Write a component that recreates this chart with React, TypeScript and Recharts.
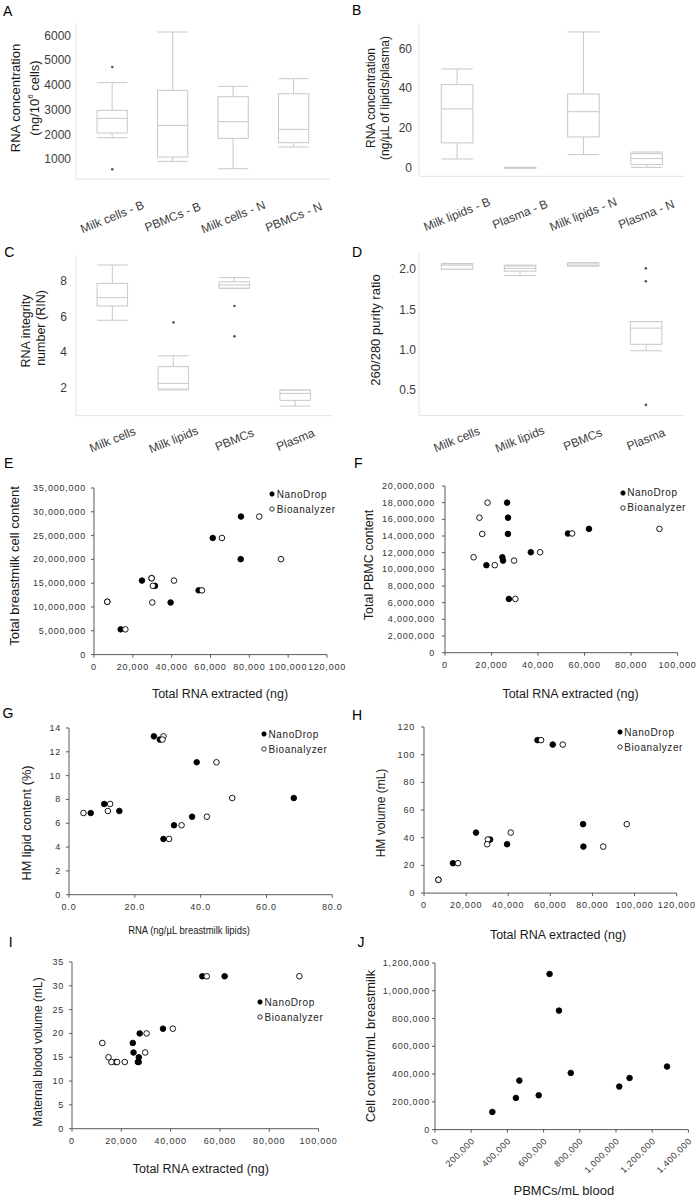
import React from 'react';
import { Bar, ComposedChart, Legend, Line, Scatter, ScatterChart, XAxis, YAxis } from 'recharts';

// ---------- A: RNA concentration, cells ----------
const aCategories = ['Milk cells - B', 'PBMCs - B', 'Milk cells - N', 'PBMCs - N'];
const aMin = [1870, 915, 615, 1495];
const aQ1 = [2060, 1090, 1845, 1670];
const aMedian = [2655, 2370, 2520, 2210];
const aQ3 = [2980, 3790, 3530, 3650];
const aMax = [4100, 6150, 3950, 4260];
const aOutliers = [[4735, 590], [], [], []];
const aTicks = [1000, 2000, 3000, 4000, 5000, 6000];

// ---------- B: RNA concentration, lipids / plasma ----------
const bCategories = ['Milk lipids - B', 'Plasma - B', 'Milk lipids - N', 'Plasma - N'];
const bMin = [4.5, 0, 6.7, 0.3];
const bQ1 = [12.6, 0.05, 15.6, 1.7];
const bMedian = [29.7, 0.1, 28.3, 4.7];
const bQ3 = [41.9, 0.2, 37.2, 7.2];
const bMax = [49.8, 0.3, 68.4, 8.0];
const bOutliers: number[][] = [[], [], [], []];
const bTicks = [0, 20, 40, 60];

// ---------- C / D: RIN and purity ----------
const sampleTypes = ['Milk cells', 'Milk lipids', 'PBMCs', 'Plasma'];
const cMin = [5.8, 1.9, 7.59, 0.99];
const cQ1 = [6.6, 1.94, 7.6, 1.31];
const cMedian = [7.07, 2.26, 7.78, 1.7];
const cQ3 = [7.87, 3.2, 7.96, 1.88];
const cMax = [8.9, 3.81, 8.19, 1.89];
const cOutliers = [[], [5.68], [6.6, 4.9], []];
const cTicks = [2, 4, 6, 8];

const dMin = [2.0, 1.92, 2.04, 0.99];
const dQ1 = [2.0, 1.975, 2.04, 1.07];
const dMedian = [2.05, 2.01, 2.05, 1.27];
const dQ3 = [2.065, 2.04, 2.075, 1.35];
const dMax = [2.07, 2.05, 2.08, 1.35];
const dOutliers = [[], [], [], [2.01, 1.85, 0.32]];
const dTicks = [0.5, 1.0, 1.5, 2.0];

// ---------- E / H: breastmilk samples ----------
const milkRnaNano = [6850, 13750, 24700, 31400, 39450, 53900, 61150, 75550, 75700, 29650];
const milkRnaBio = [6850, 16150, 41200, 30300, 30000, 55600, 65900, 96300, 85100, 29650];
const milkCells = [11100000, 5300000, 15550000, 14450000, 10950000, 13500000, 24500000, 20050000, 29000000, 16050000];
const milkVolume = [9.6, 21.6, 43.7, 38.7, 35.3, 110.5, 107.3, 49.8, 33.6, null];

// ---------- F / I: blood samples ----------
const pbmcRnaNano = [26700, 27100, 27050, 17800, 24650, 24950, 27450, 36900, 52850, 61900];
const pbmcRnaBio = [18300, 14800, 16000, 21400, 12300, 29700, 30250, 40900, 54650, 92200];
const pbmcCount = [18000000, 16200000, 14250000, 10500000, 11450000, 11050000, 6450000, 12050000, 14300000, 14850000];
const bloodVolume = [14, 15, 14, 14, 18, 16, 20, 21, 32, 32];

// ---------- G: lipid fraction ----------
const lipidRnaNano = [6.6, 10.7, 15.3, 25.8, 27.6, 28.7, 31.9, 37.4, 38.8, 68.3];
const lipidRnaBio = [4.4, 12.5, 11.8, 28.7, 28.4, 30.4, 34.2, 41.9, 44.8, 49.6];
const lipidContent = [6.86, 7.62, 7.03, 13.3, 13.03, 4.68, 5.83, 6.55, 11.12, 8.12];

// ---------- J ----------
const pbmcPerMl = [317000, 447000, 466000, 573000, 633000, 685000, 750000, 1018000, 1075000, 1282000];
const milkCellsPerMl = [127000, 228000, 353000, 247000, 1121000, 857000, 408000, 310000, 372000, 454000];

const FONT = '"Liberation Sans", Arial, Helvetica, sans-serif';
const INK = '#1a1a1a';
const TICK_GREY = '#3d3d3d';
const FRAME = '#e2e2e2';
const BOX = '#c8c8c8';
const AXIS = '#595959';
const EXCEL_TEXT = '#333';

type Rect = { l: number; t: number; r: number; b: number };

// chart box so that the plot area lands on the given rectangle
function frameFor(p: Rect, yW: number, xH: number, top: number, right: number) {
  return {
    left: p.l - yW,
    top: p.t - top,
    width: p.r - p.l + yW + right,
    height: p.b - p.t + top + xH,
    margin: { top, right, bottom: 0, left: 0 },
  };
}

const thousands = (v: number) => v.toLocaleString('en-US');
const oneDecimal = (v: number) => v.toFixed(1);
const plain = (v: number) => String(v);

const leftTick = (fmt: (v: number) => string, size: number, fill: string, spacing = 0) => (props: any) => (
  <text x={props.x} y={props.y} textAnchor="end" dominantBaseline="central" fontSize={size} fill={fill}
        letterSpacing={spacing} fontFamily={FONT}>
    {fmt(props.payload.value)}
  </text>
);

const bottomTick = (fmt: (v: number) => string) => (props: any) => (
  <text x={props.x} y={props.y} dy="0.71em" textAnchor="middle" fontSize={9} fill={EXCEL_TEXT}
        letterSpacing={0.8} fontFamily={FONT}>
    {fmt(props.payload.value)}
  </text>
);

const angledTick = (fmt: (v: number) => string) => (props: any) => {
  const x = props.x + 4;
  const y = props.y + 9;
  return (
    <text x={x} y={y} textAnchor="end" transform={`rotate(-45 ${x} ${y})`} fontSize={9} fill={EXCEL_TEXT}
          letterSpacing={0.6} fontFamily={FONT}>
      {fmt(props.payload.value)}
    </text>
  );
};

// category label centred below the band, tilted like the original
const catTick = (centerY: number) => (props: any) => (
  <g transform={`translate(${props.x},${centerY})`}>
    <text x={0} y={0} textAnchor="middle" dominantBaseline="central" transform="rotate(-22)" fontSize={12}
          fill={TICK_GREY} fontFamily={FONT}>
      {props.payload.value}
    </text>
  </g>
);

// box drawn inside the [min,max] range bar; inner values placed on the same linear y scale
const BoxShape = (props: any) => {
  const { x, y, width, height, payload } = props;
  const [lo, hi] = payload.span;
  const top = Math.min(y, y + height);
  const bottom = Math.max(y, y + height);
  const at = (v: number) => (hi === lo ? top : top + ((hi - v) / (hi - lo)) * (bottom - top));
  const cx = x + width / 2;
  return (
    <g stroke={BOX} strokeWidth={1} fill="none">
      <line x1={x} x2={x + width} y1={top} y2={top} />
      <line x1={x} x2={x + width} y1={bottom} y2={bottom} />
      <line x1={cx} x2={cx} y1={top} y2={at(payload.q3)} />
      <line x1={cx} x2={cx} y1={at(payload.q1)} y2={bottom} />
      <rect x={x} y={at(payload.q3)} width={width} height={Math.max(at(payload.q1) - at(payload.q3), 0.5)} fill="#fff" />
      <line x1={x} x2={x + width} y1={at(payload.median)} y2={at(payload.median)} />
    </g>
  );
};

const OutlierDot = (props: any) => {
  const { cx, cy, value, index, dataKey } = props;
  if (value == null || cy == null || Number.isNaN(cy)) return <g key={`${dataKey}-${index}`} />;
  return <circle key={`${dataKey}-${index}`} cx={cx} cy={cy} r={1.3} fill="#555" />;
};

interface BoxPanelProps {
  plot: Rect;
  categories: string[];
  mins: number[];
  q1s: number[];
  medians: number[];
  q3s: number[];
  maxs: number[];
  outliers: number[][];
  domain: [number, number];
  ticks: number[];
  fmt: (v: number) => string;
  tickGap: number;
  labelOffset: number;
}

function BoxPanel(p: BoxPanelProps) {
  const rows = p.categories.map((cat, i) => {
    const row: any = { cat, span: [p.mins[i], p.maxs[i]], q1: p.q1s[i], median: p.medians[i], q3: p.q3s[i] };
    p.outliers[i].forEach((v, k) => { row['out' + k] = v; });
    return row;
  });
  const outCount = Math.max(...p.outliers.map(o => o.length));
  const unit = (p.plot.r - p.plot.l) / (p.categories.length + 0.2);
  const f = frameFor(p.plot, 60, 60, 6, 6);
  const labelY = f.margin.top + (p.plot.b - p.plot.t) + p.labelOffset;
  return (
    <div style={{ position: 'absolute', left: f.left, top: f.top }}>
      <ComposedChart width={f.width} height={f.height} data={rows} margin={f.margin}>
        <XAxis dataKey="cat" type="category" interval={0} height={60} padding={{ left: unit * 0.1, right: unit * 0.1 }}
               axisLine={{ stroke: FRAME }} tickLine={false} tickSize={0} tickMargin={0} tick={catTick(labelY)} />
        <XAxis xAxisId="frameTop" dataKey="cat" type="category" orientation="top" height={0}
               axisLine={{ stroke: FRAME }} tickLine={false} tick={false} />
        <YAxis type="number" domain={p.domain} ticks={p.ticks} allowDataOverflow width={60} interval={0}
               axisLine={{ stroke: FRAME }} tickLine={false} tickSize={0} tickMargin={p.tickGap}
               tick={leftTick(p.fmt, 12, TICK_GREY)} />
        <YAxis yAxisId="frameRight" type="number" orientation="right" domain={p.domain} allowDataOverflow width={0}
               axisLine={{ stroke: FRAME }} tickLine={false} tick={false} />
        <Bar dataKey="span" barSize={unit * 0.5} shape={BoxShape} isAnimationActive={false} />
        {Array.from({ length: outCount }).map((_, k) => (
          <Line key={k} dataKey={'out' + k} stroke="none" dot={OutlierDot} activeDot={false} isAnimationActive={false} />
        ))}
      </ComposedChart>
    </div>
  );
}

interface Series { name: string; xs: number[]; ys: (number | null)[]; filled: boolean }

interface ScatterPanelProps {
  plot: Rect;
  xDomain: [number, number];
  xTicks: number[];
  yDomain: [number, number];
  yTicks: number[];
  xFmt: (v: number) => string;
  yFmt: (v: number) => string;
  series: Series[];
  legendAt?: [number, number];
  yTickGap: number;
  angledX?: boolean;
}

const dot = (filled: boolean) => (props: any) => (
  <circle cx={props.cx} cy={props.cy} r={2.8} fill={filled ? '#000' : '#fff'} stroke="#000" strokeWidth={0.9} />
);

// keep the series order (NanoDrop first) rather than the alphabetical default
const legendContent = (props: any) => {
  const items = [...(props.payload || [])].sort((a: any, b: any) => (a.color === '#000' ? 0 : 1) - (b.color === '#000' ? 0 : 1));
  return (
    <div style={{ fontSize: 10, letterSpacing: 0.6, color: '#222', fontFamily: FONT }}>
      {items.map((e: any) => (
        <div key={e.value} style={{ display: 'flex', alignItems: 'center', height: 15, whiteSpace: 'nowrap' }}>
          <svg width={6} height={6} style={{ marginRight: 1.5 }}>
            <circle cx={3} cy={3} r={2.2} fill={e.color === '#000' ? '#000' : '#fff'} stroke="#000" strokeWidth={0.8} />
          </svg>
          <span>{e.value}</span>
        </div>
      ))}
    </div>
  );
};

function ScatterPanel(p: ScatterPanelProps) {
  const xH = p.angledX ? 60 : 30;
  const f = frameFor(p.plot, 70, xH, 10, 25);
  return (
    <div style={{ position: 'absolute', left: f.left, top: f.top }}>
      <ScatterChart width={f.width} height={f.height} margin={f.margin}>
        <XAxis type="number" dataKey="x" domain={p.xDomain} ticks={p.xTicks} allowDataOverflow height={xH} interval={0}
               axisLine={{ stroke: AXIS }} tickLine={{ stroke: AXIS }} tickSize={3} tickMargin={p.angledX ? 0 : 6}
               tick={p.angledX ? angledTick(p.xFmt) : bottomTick(p.xFmt)} />
        <YAxis type="number" dataKey="y" domain={p.yDomain} ticks={p.yTicks} allowDataOverflow width={70} interval={0}
               axisLine={{ stroke: AXIS }} tickLine={{ stroke: AXIS }} tickSize={3} tickMargin={p.yTickGap}
               tick={leftTick(p.yFmt, 9, EXCEL_TEXT, 0.8)} />
        {p.series.map(s => (
          <Scatter key={s.name} name={s.name}
                   data={s.xs.map((x, i) => ({ x, y: s.ys[i] })).filter(d => d.y != null)}
                   fill={s.filled ? '#000' : '#fff'} stroke="#000" shape={dot(s.filled)} isAnimationActive={false} />
        ))}
        {p.legendAt && (
          <Legend layout="vertical" align="center" verticalAlign="middle" content={legendContent}
                  wrapperStyle={{ left: p.legendAt[0] - 3 - f.left, top: p.legendAt[1] - 7.5 - f.top, width: 'auto' }} />
        )}
      </ScatterChart>
    </div>
  );
}

const VTitle = ({ x, y, size = 13, children }: any) => (
  <div style={{ position: 'absolute', left: x, top: y, transform: 'translate(-50%, -50%) rotate(-90deg)',
                whiteSpace: 'nowrap', fontSize: size, lineHeight: 1, color: INK }}>
    {children}
  </div>
);

const HTitle = ({ x, y, size = 12.5, squeeze = 1, children }: any) => (
  <div style={{ position: 'absolute', left: x, top: y, transform: `translate(-50%, -50%) scaleX(${squeeze})`,
                whiteSpace: 'nowrap', fontSize: size, lineHeight: 1, color: INK }}>
    {children}
  </div>
);

const Letter = ({ x, y, children }: any) => (
  <div style={{ position: 'absolute', left: x, top: y, fontSize: 14, lineHeight: 1, color: '#000' }}>{children}</div>
);

const nano = 'NanoDrop';
const bio = 'Bioanalyzer';

export default function App() {
  return (
    <div style={{ position: 'absolute', left: 0, top: 0, width: 697, height: 1196, overflow: 'hidden',
                  background: '#fff', fontFamily: FONT }}>
      <BoxPanel plot={{ l: 76, t: 23, r: 330, b: 179 }} categories={aCategories} mins={aMin} q1s={aQ1}
                medians={aMedian} q3s={aQ3} maxs={aMax} outliers={aOutliers} domain={[200, 6515]} ticks={aTicks}
                fmt={plain} tickGap={5} labelOffset={38} />
      <BoxPanel plot={{ l: 418.7, t: 22.7, r: 684, b: 176 }} categories={bCategories} mins={bMin} q1s={bQ1}
                medians={bMedian} q3s={bQ3} maxs={bMax} outliers={bOutliers} domain={[-4.2, 72.9]} ticks={bTicks}
                fmt={plain} tickGap={7} labelOffset={38} />
      <BoxPanel plot={{ l: 76, t: 255, r: 332, b: 415.7 }} categories={sampleTypes} mins={cMin} q1s={cQ1}
                medians={cMedian} q3s={cQ3} maxs={cMax} outliers={cOutliers} domain={[0.45, 9.46]} ticks={cTicks}
                fmt={plain} tickGap={9} labelOffset={24} />
      <BoxPanel plot={{ l: 419, t: 253.3, r: 683.7, b: 415.7 }} categories={sampleTypes} mins={dMin} q1s={dQ1}
                medians={dMedian} q3s={dQ3} maxs={dMax} outliers={dOutliers} domain={[0.19, 2.2]} ticks={dTicks}
                fmt={oneDecimal} tickGap={3} labelOffset={24} />

      <ScatterPanel plot={{ l: 94.3, t: 487.7, r: 327.3, b: 654.3 }} xDomain={[0, 120000]}
                    xTicks={[0, 20000, 40000, 60000, 80000, 100000, 120000]} yDomain={[0, 35000000]}
                    yTicks={[0, 5000000, 10000000, 15000000, 20000000, 25000000, 30000000, 35000000]}
                    xFmt={thousands} yFmt={thousands} yTickGap={5} legendAt={[272.3, 494.3]}
                    series={[{ name: nano, xs: milkRnaNano, ys: milkCells, filled: true },
                             { name: bio, xs: milkRnaBio, ys: milkCells, filled: false }]} />
      <ScatterPanel plot={{ l: 444.7, t: 486.3, r: 677.3, b: 653 }} xDomain={[0, 100000]}
                    xTicks={[0, 20000, 40000, 60000, 80000, 100000]} yDomain={[0, 20000000]}
                    yTicks={[0, 2000000, 4000000, 6000000, 8000000, 10000000, 12000000, 14000000, 16000000, 18000000, 20000000]}
                    xFmt={thousands} yFmt={thousands} yTickGap={7} legendAt={[622.7, 492.7]}
                    series={[{ name: nano, xs: pbmcRnaNano, ys: pbmcCount, filled: true },
                             { name: bio, xs: pbmcRnaBio, ys: pbmcCount, filled: false }]} />
      <ScatterPanel plot={{ l: 69, t: 728.3, r: 332.3, b: 895 }} xDomain={[0, 80]} xTicks={[0, 20, 40, 60, 80]}
                    yDomain={[0, 14]} yTicks={[0, 2, 4, 6, 8, 10, 12, 14]} xFmt={oneDecimal} yFmt={plain}
                    yTickGap={5} legendAt={[264, 734.3]}
                    series={[{ name: nano, xs: lipidRnaNano, ys: lipidContent, filled: true },
                             { name: bio, xs: lipidRnaBio, ys: lipidContent, filled: false }]} />
      <ScatterPanel plot={{ l: 423.5, t: 727.2, r: 676.2, b: 893.3 }} xDomain={[0, 120000]}
                    xTicks={[0, 20000, 40000, 60000, 80000, 100000, 120000]} yDomain={[0, 120]}
                    yTicks={[0, 20, 40, 60, 80, 100, 120]} xFmt={thousands} yFmt={plain} yTickGap={6}
                    legendAt={[619.7, 732.3]}
                    series={[{ name: nano, xs: milkRnaNano, ys: milkVolume, filled: true },
                             { name: bio, xs: milkRnaBio, ys: milkVolume, filled: false }]} />
      <ScatterPanel plot={{ l: 71.7, t: 962, r: 318.3, b: 1128.7 }} xDomain={[0, 100000]}
                    xTicks={[0, 20000, 40000, 60000, 80000, 100000]} yDomain={[0, 35]}
                    yTicks={[0, 5, 10, 15, 20, 25, 30, 35]} xFmt={thousands} yFmt={plain} yTickGap={5}
                    legendAt={[260, 1002.3]}
                    series={[{ name: nano, xs: pbmcRnaNano, ys: bloodVolume, filled: true },
                             { name: bio, xs: pbmcRnaBio, ys: bloodVolume, filled: false }]} />
      <ScatterPanel plot={{ l: 435.3, t: 962.7, r: 688.7, b: 1129.3 }} xDomain={[0, 1400000]}
                    xTicks={[0, 200000, 400000, 600000, 800000, 1000000, 1200000, 1400000]} yDomain={[0, 1200000]}
                    yTicks={[0, 200000, 400000, 600000, 800000, 1000000, 1200000]} xFmt={thousands} yFmt={thousands}
                    yTickGap={2} angledX
                    series={[{ name: 'Cell content', xs: pbmcPerMl, ys: milkCellsPerMl, filled: true }]} />

      <VTitle x={14.8} y={98.3}>RNA concentration</VTitle>
      <VTitle x={33.6} y={98.3}>(ng/10<sup style={{ fontSize: 8 }}>6</sup> cells)</VTitle>
      <VTitle x={370.8} y={98.3} size={12}>RNA concentration</VTitle>
      <VTitle x={384.6} y={98.3} size={12}>(ng/µL of lipids/plasma)</VTitle>
      <VTitle x={26} y={330.8} size={12.5}>RNA integrity</VTitle>
      <VTitle x={40.5} y={328.3} size={12.5}>number (RIN)</VTitle>
      <VTitle x={374.8} y={330}>260/280 purity ratio</VTitle>
      <VTitle x={14} y={565.8}>Total breastmilk cell content</VTitle>
      <VTitle x={369.3} y={565} size={12.5}>Total PBMC content</VTitle>
      <VTitle x={26.7} y={822.5} size={12.8}>HM lipid content (%)</VTitle>
      <VTitle x={381.3} y={812.5} size={12}>HM volume (mL)</VTitle>
      <VTitle x={38.3} y={1051.7} size={12}>Maternal blood volume (mL)</VTitle>
      <VTitle x={370} y={1045.8}>Cell content/mL breastmilk</VTitle>

      <HTitle x={220} y={694}>Total RNA extracted (ng)</HTitle>
      <HTitle x={570.5} y={694}>Total RNA extracted (ng)</HTitle>
      <HTitle x={189.2} y={930} size={10.5} squeeze={0.9}>RNA (ng/µL breastmilk lipids)</HTitle>
      <HTitle x={558} y={935}>Total RNA extracted (ng)</HTitle>
      <HTitle x={200.8} y={1169}>Total RNA extracted (ng)</HTitle>
      <HTitle x={563.8} y={1190} size={13}>PBMCs/mL blood</HTitle>

      <Letter x={3} y={4.2}>A</Letter>
      <Letter x={352} y={3.2}>B</Letter>
      <Letter x={4.3} y={244.8}>C</Letter>
      <Letter x={352} y={245}>D</Letter>
      <Letter x={4} y={456}>E</Letter>
      <Letter x={354} y={456}>F</Letter>
      <Letter x={2.5} y={706}>G</Letter>
      <Letter x={352} y={708}>H</Letter>
      <Letter x={8.7} y={935}>I</Letter>
      <Letter x={357.5} y={935}>J</Letter>
    </div>
  );
}
